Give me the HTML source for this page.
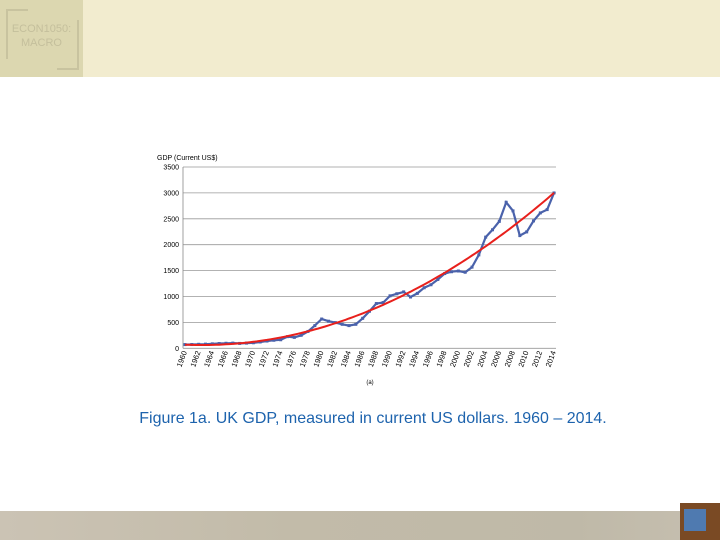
<!DOCTYPE html>
<html><head><meta charset="utf-8"><style>
body{margin:0;width:720px;height:540px;position:relative;background:#fff;font-family:"Liberation Sans",sans-serif;overflow:hidden}
.top{position:absolute;left:0;top:0;width:720px;height:77px;background:#f2eccf}
.logo{position:absolute;left:0;top:0;width:83px;height:77px;background:#dcd7b0}
.logo .t{position:absolute;left:0;width:83px;text-align:center;top:22px;font-size:11px;line-height:14px;color:#c4bf9c}
.bot{position:absolute;left:0;top:511px;width:720px;height:29px;background:linear-gradient(90deg,#cbc3b4,#c2bba9 40%,#bfb9a8 80%,#c6bfb0)}
.pic{position:absolute;left:680px;top:503px;width:40px;height:37px;background:#7a4a24}
.pic div{position:absolute;left:4px;top:6px;width:22px;height:22px;background:#4f7ab0}
.cap{position:absolute;left:0;width:746px;text-align:center;top:410px;font-size:16px;color:#1d63ad}
</style></head><body>
<div class="top"></div>
<div class="logo"><div class="t">ECON1050:<br>MACRO</div>
<div style="position:absolute;left:6px;top:9px;width:22px;height:2px;background:#c8c39f"></div>
<div style="position:absolute;left:6px;top:9px;width:2px;height:50px;background:#c8c39f"></div>
<div style="position:absolute;left:77px;top:20px;width:2px;height:50px;background:#c8c39f"></div>
<div style="position:absolute;left:57px;top:68px;width:22px;height:2px;background:#c8c39f"></div>
</div>
<div class="bot"></div>
<div class="pic"><div></div></div>
<svg id="c" width="720" height="540" style="position:absolute;left:0;top:0" font-family="Liberation Sans, sans-serif"></svg>
<div class="cap">Figure 1a. UK GDP, measured in current US dollars. 1960 – 2014.</div>
<script>
var d=[72,73,77,80,86,92,97,100,94,100,107,122,140,155,165,225,211,251,325,438,565,523,496,463,438,463,579,716,864,883,1013,1053,1089,990,1060,1169,1227,1329,1443,1478,1492,1468,1567,1803,2146,2288,2451,2819,2653,2176,2247,2459,2614,2678,2999];
var x0=185,x1=554,y0=348.3,k=25.9/500;
function X(i){return x0+(x1-x0)*i/54}function Y(v){return y0-v*k}
var s='<text x="157" y="160" font-size="7">GDP (Current US$)</text>';
for(var v=0;v<=3500;v+=500){var y=Y(v);s+='<line x1="183" x2="556" y1="'+y+'" y2="'+y+'" stroke="#999" stroke-width="0.8"/>';s+='<text x="179" y="'+(y+2.5)+'" font-size="7" text-anchor="end">'+v+'</text>';}
s+='<line x1="183" x2="183" y1="'+Y(3500)+'" y2="'+y0+'" stroke="#888" stroke-width="0.8"/>';
for(var i=0;i<=54;i+=2){var x=X(i);s+='<text font-size="7.5" text-anchor="end" transform="translate('+(x+2)+',352) rotate(-70)">'+(1960+i)+'</text>';}
s+='<text x="370" y="384" font-size="6" text-anchor="middle">(a)</text>';
var p='';for(var i=0;i<55;i++)p+=(i?'L':'M')+X(i).toFixed(1)+','+Y(d[i]).toFixed(1);
s+='<path d="'+p+'" fill="none" stroke="#4a62ab" stroke-width="2.2"/>';
for(var i=0;i<55;i++)s+='<rect x="'+(X(i)-1.5)+'" y="'+(Y(d[i])-1.5)+'" width="3" height="3" fill="#4a62ab"/>';
var q='';for(var t=0;t<=54;t+=0.5){var v=70-5.57*t+1.108*t*t;q+=(t?'L':'M')+X(t).toFixed(1)+','+Y(v).toFixed(1);}
s+='<path d="'+q+'" fill="none" stroke="#e8201c" stroke-width="2"/>';
document.getElementById('c').innerHTML=s;
</script>
</body></html>
